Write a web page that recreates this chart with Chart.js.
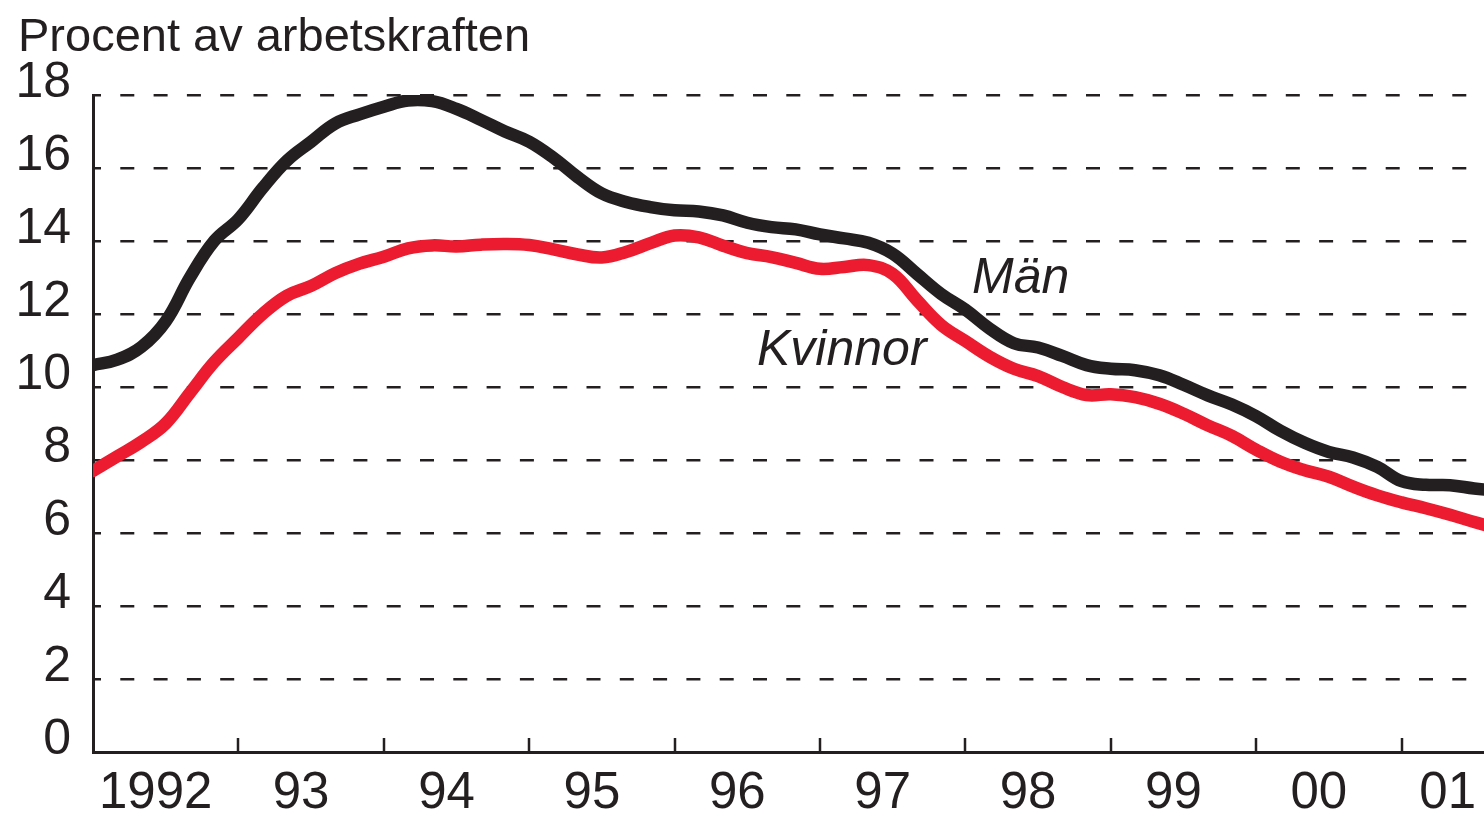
<!DOCTYPE html>
<html>
<head>
<meta charset="utf-8">
<script src="https://cdn.jsdelivr.net/npm/chart.js@4/dist/chart.umd.min.js"></script>
<style>
html,body{margin:0;padding:0;background:#fff;overflow:hidden;}
canvas{display:block;}
</style>
</head>
<body>
<canvas id="c" width="1484" height="816"></canvas>
<script>
// Period (every second month), 1992-01 .. 2001-09
const period = [
 '1992-01','1992-03','1992-05','1992-07','1992-09','1992-11',
 '1993-01','1993-03','1993-05','1993-07','1993-09','1993-11',
 '1994-01','1994-03','1994-05','1994-07','1994-09','1994-11',
 '1995-01','1995-03','1995-05','1995-07','1995-09','1995-11',
 '1996-01','1996-03','1996-05','1996-07','1996-09','1996-11',
 '1997-01','1997-03','1997-05','1997-07','1997-09','1997-11',
 '1998-01','1998-03','1998-05','1998-07','1998-09','1998-11',
 '1999-01','1999-03','1999-05','1999-07','1999-09','1999-11',
 '2000-01','2000-03','2000-05','2000-07','2000-09','2000-11',
 '2001-01','2001-03','2001-05','2001-07','2001-09'
];
// Män, procent av arbetskraften
const man = [
 10.6,10.75,11.1,11.8,13.0,14.0,14.6,15.45,16.2,16.72,
 17.22,17.47,17.68,17.85,17.83,17.62,17.32,17.0,16.72,16.28,
 15.75,15.3,15.07,14.93,14.84,14.81,14.7,14.5,14.38,14.32,
 14.18,14.07,13.95,13.65,13.1,12.55,12.12,11.6,11.2,11.08,
 10.85,10.6,10.5,10.46,10.32,10.06,9.77,9.52,9.2,8.8,
 8.47,8.22,8.07,7.81,7.42,7.32,7.31,7.22,7.15
];
// Kvinnor, procent av arbetskraften
const kvinnor = [
 7.7,8.1,8.5,9.0,9.84,10.68,11.35,12.0,12.5,12.77,
 13.12,13.38,13.57,13.8,13.88,13.85,13.9,13.92,13.89,13.77,
 13.63,13.55,13.7,13.94,14.15,14.1,13.87,13.67,13.56,13.4,
 13.24,13.29,13.34,13.1,12.38,11.7,11.26,10.83,10.5,10.3,
 10.0,9.78,9.8,9.72,9.54,9.27,8.95,8.66,8.28,7.95,
 7.72,7.54,7.27,7.03,6.84,6.68,6.5,6.3,6.12
];
const yearTicks = [1992,1993,1994,1995,1996,1997,1998,1999,2000,2001];
const yearLabels = ['1992','93','94','95','96','97','98','99','00','01'];
const yTicks = [0,2,4,6,8,10,12,14,16,18];

const BLACK = '#231f20';
const RED = '#ed1b2f';
const FONT = "'Liberation Sans', Arial, Helvetica, sans-serif";

function toYear(p){ const [y,m] = p.split('-').map(Number); return y + (m-1)/12; }
const pts = arr => arr.map((v,i)=>({x: toYear(period[i]), y: v}));

const decor = {
  id: 'decor',
  afterDatasetsDraw(chart){
    const ctx = chart.ctx;
    const xs = chart.scales.x;
    const ca = chart.chartArea;
    ctx.save();
    // year tick marks (inside, upward)
    ctx.strokeStyle = BLACK; ctx.lineWidth = 2.5;
    yearTicks.slice(1).forEach(y=>{
      const px = Math.round(xs.getPixelForValue(y));
      ctx.beginPath(); ctx.moveTo(px, ca.bottom); ctx.lineTo(px, ca.bottom-14); ctx.stroke();
    });
    // year labels
    ctx.fillStyle = BLACK;
    ctx.font = '51px ' + FONT;
    ctx.textAlign = 'center'; ctx.textBaseline = 'alphabetic';
    yearTicks.forEach((y,i)=>{
      let px = xs.getPixelForValue(y+0.5) - 10;
      const w = ctx.measureText(yearLabels[i]).width;
      px = Math.min(px, chart.width - w/2 - 8);
      ctx.fillText(yearLabels[i], px, 808);
    });
    // title
    ctx.textAlign = 'left';
    ctx.font = '47px ' + FONT;
    ctx.fillText('Procent av arbetskraften', 18, 51);
    // series labels
    ctx.font = 'italic 50px ' + FONT;
    ctx.fillText('Män', 972, 293);
    ctx.fillText('Kvinnor', 757, 365);
    ctx.restore();
  }
};

new Chart(document.getElementById('c'), {
  type: 'line',
  data: {
    datasets: [
      {label:'Män', data: pts(man), borderColor: BLACK, borderWidth: 12.5, pointRadius: 0, tension: 0.4, borderCapStyle:'round', borderJoinStyle:'round'},
      {label:'Kvinnor', data: pts(kvinnor), borderColor: RED, borderWidth: 12.5, pointRadius: 0, tension: 0.4, borderCapStyle:'round', borderJoinStyle:'round'}
    ]
  },
  options: {
    responsive: false,
    animation: false,
    layout: {padding: {top: 95, left: 0, right: 0, bottom: 0}},
    plugins: {legend: {display:false}, tooltip: {enabled:false}, title:{display:false}},
    scales: {
      x: {
        type: 'linear', min: 1992, max: 2001.567,
        grid: {display: false},
        ticks: {display: false},
        border: {display: true, color: BLACK, width: 3},
        afterFit: s => { s.height = 64; }
      },
      y: {
        type: 'linear', min: 0, max: 18,
        afterBuildTicks: s => { s.ticks = yTicks.map(v=>({value:v})); },
        ticks: {color: BLACK, font: {family: FONT, size: 50}, padding: 22, labelOffset: -12},
        grid: {color: BLACK, lineWidth: 2.5, drawTicks: false},
        border: {display: true, color: BLACK, width: 3, dash: [14, 19.3], dashOffset: 8},
        afterFit: s => { s.width = 93; }
      }
    }
  },
  plugins: [decor]
});
</script>
</body>
</html>
